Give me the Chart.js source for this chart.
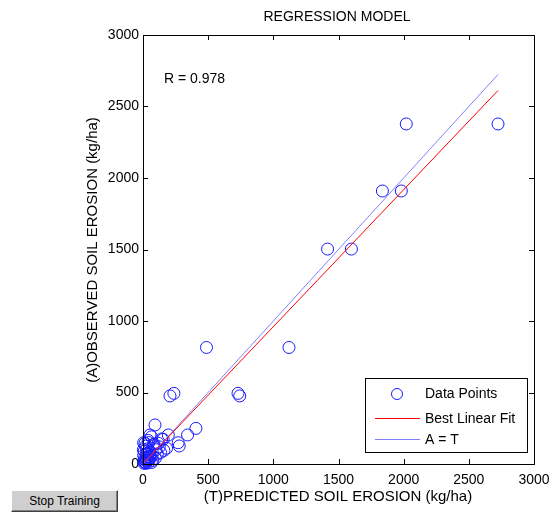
<!DOCTYPE html>
<html>
<head>
<meta charset="utf-8">
<title>Regression Model</title>
<script src="https://cdn.jsdelivr.net/npm/chart.js@4.4.1/dist/chart.umd.min.js"></script>
<style>
  html, body { margin: 0; padding: 0; background: #fff; }
  #wrap { position: relative; width: 553px; height: 513px; }
  #stopBtn {
    position: absolute; left: 11px; top: 490px; width: 107px; height: 22px;
    background: #cfcfcf; color: #000;
    font: 12px "Liberation Sans", Arial, sans-serif;
    border: 1px solid; border-color: #ffffff #404040 #404040 #ffffff;
    box-shadow: inset -1px -1px 0 #808080; padding: 0;
  }
</style>
</head>
<body>
<div id="wrap">
  <canvas id="regChart" width="553" height="513"></canvas>
  <button id="stopBtn">Stop Training</button>
</div>
<script>
// predicted (T) vs observed (A) soil erosion, kg/ha
const predicted = [2020, 2724, 1837, 1982, 1416, 1599, 487, 1120, 207, 237, 729, 742,
  406, 342, 270, 278, 92, 54, 15, 194, 155, 181, 117, 79, 143, 5,
  40, 65, 100, 125, 160, 30, 85, 110, 50, 20, 70, 135, 95, 45,
  10, 25, 35, 60, 15, 5, 30, 20, 45, 10, 55, 75, 40, 25, 8, 18, 12, 35, 50, 65, 22, 3];
const observed = [2378, 2378, 1909, 1909, 1503, 1503, 815, 815, 476, 494, 494, 476,
  249, 203, 149, 126, 273, 203, 145, 203, 173, 110, 145, 133, 175, 149,
  165, 190, 100, 120, 95, 105, 140, 70, 85, 125, 60, 80, 40, 150,
  90, 70, 50, 45, 30, 60, 20, 10, 30, 15, 65, 25, 8, 40, 5, 25, 45, 75, 50, 10, 5, 100];

// end points of the lines
const fitX = [8, 2724];
const fitY = [10, 2612];
const idealX = [8, 2724];
const idealY = [8, 2724];

const axisTicks = [0, 500, 1000, 1500, 2000, 2500, 3000];
const rText = 'R = 0.978';

const FONT = '"Liberation Sans", Arial, sans-serif';

function pairs(xs, ys) {
  return xs.map((x, i) => ({ x: x, y: ys[i] }));
}

const matlabFrame = {
  id: 'matlabFrame',
  afterDraw(chart) {
    const ctx = chart.ctx;
    const a = chart.chartArea;
    const xs = chart.scales.x, ys = chart.scales.y;
    ctx.save();
    ctx.strokeStyle = '#000';
    ctx.lineWidth = 1;
    // box
    ctx.strokeRect(Math.round(a.left) + 0.5, Math.round(a.top) + 0.5,
      Math.round(a.right - a.left), Math.round(a.bottom - a.top));
    // inward ticks on all sides
    ctx.beginPath();
    axisTicks.forEach(v => {
      const px = Math.round(xs.getPixelForValue(v)) + 0.5;
      ctx.moveTo(px, a.bottom); ctx.lineTo(px, a.bottom - 5);
      ctx.moveTo(px, a.top); ctx.lineTo(px, a.top + 5);
      const py = Math.round(ys.getPixelForValue(v)) + 0.5;
      ctx.moveTo(a.left, py); ctx.lineTo(a.left + 5, py);
      ctx.moveTo(a.right, py); ctx.lineTo(a.right - 5, py);
    });
    ctx.stroke();

    ctx.fillStyle = '#000';
    ctx.textBaseline = 'middle';
    // title
    ctx.font = '14px ' + FONT;
    ctx.textAlign = 'center';
    ctx.fillText('REGRESSION MODEL', 337, 17);
    // axis titles
    ctx.font = '15px ' + FONT;
    ctx.fillText('(T)PREDICTED SOIL EROSION (kg/ha)', 338, 497);
    ctx.save();
    ctx.translate(93, 250);
    ctx.rotate(-Math.PI / 2);
    ctx.fillText('(A)OBSERVED SOIL EROSION (kg/ha)', 0, 0);
    ctx.restore();
    // R value
    ctx.font = '14px ' + FONT;
    ctx.textAlign = 'left';
    ctx.fillText(rText, 164, 79);

    // legend
    const L = { left: 365.5, top: 378.5, w: 162, h: 74 };
    ctx.fillStyle = '#fff';
    ctx.fillRect(L.left, L.top, L.w, L.h);
    ctx.strokeStyle = '#000';
    ctx.strokeRect(L.left, L.top, L.w, L.h);
    ctx.strokeStyle = '#1a1aff';
    ctx.beginPath();
    ctx.arc(397, 394, 5.5, 0, Math.PI * 2);
    ctx.stroke();
    ctx.strokeStyle = '#ff0000';
    ctx.beginPath(); ctx.moveTo(375, 418.5); ctx.lineTo(420, 418.5); ctx.stroke();
    ctx.strokeStyle = '#8080ff';
    ctx.beginPath(); ctx.moveTo(375, 439.5); ctx.lineTo(420, 439.5); ctx.stroke();
    ctx.fillStyle = '#000';
    ctx.fillText('Data Points', 425, 394);
    ctx.fillText('Best Linear Fit', 425, 419);
    ctx.fillText('A = T', 425, 440);
    ctx.restore();
  }
};

window.addEventListener('DOMContentLoaded', () => {
  const ctx = document.getElementById('regChart').getContext('2d');

  new Chart(ctx, {
    data: {
      datasets: [
        {
          type: 'line',
          label: 'Best Linear Fit',
          data: pairs(fitX, fitY),
          borderColor: '#ff0000',
          borderWidth: 1,
          pointRadius: 0,
          fill: false
        },
        {
          type: 'line',
          label: 'A = T',
          data: pairs(idealX, idealY),
          borderColor: '#8080ff',
          borderWidth: 1,
          pointRadius: 0,
          fill: false
        },
        {
          type: 'scatter',
          label: 'Data Points',
          data: pairs(predicted, observed),
          pointStyle: 'circle',
          pointRadius: 6,
          borderColor: '#1a1aff',
          backgroundColor: 'rgba(0,0,0,0)',
          borderWidth: 1,
          clip: false
        }
      ]
    },
    options: {
      responsive: false,
      animation: false,
      devicePixelRatio: 1,
      layout: { padding: { top: 35, right: 19, left: 0, bottom: 0 } },
      plugins: {
        legend: { display: false },
        tooltip: { enabled: false },
        title: { display: false }
      },
      scales: {
        x: {
          type: 'linear',
          min: 0, max: 3000,
          grid: { display: false, drawTicks: false, tickLength: 0 },
          border: { display: false },
          ticks: {
            stepSize: 500, color: '#000', padding: 8, maxRotation: 0,
            font: { size: 14, family: FONT },
            callback: v => String(v)
          },
          afterFit: s => { s.height = 49; s.paddingLeft = 0; s.paddingRight = 0; }
        },
        y: {
          type: 'linear',
          min: 0, max: 3000,
          grid: { display: false, drawTicks: false, tickLength: 0 },
          border: { display: false },
          ticks: {
            stepSize: 500, color: '#000', padding: 4,
            font: { size: 14, family: FONT },
            callback: v => String(v)
          },
          afterFit: s => { s.width = 143; s.paddingTop = 0; s.paddingBottom = 0; }
        }
      }
    },
    plugins: [matlabFrame]
  });
});
</script>
</body>
</html>
